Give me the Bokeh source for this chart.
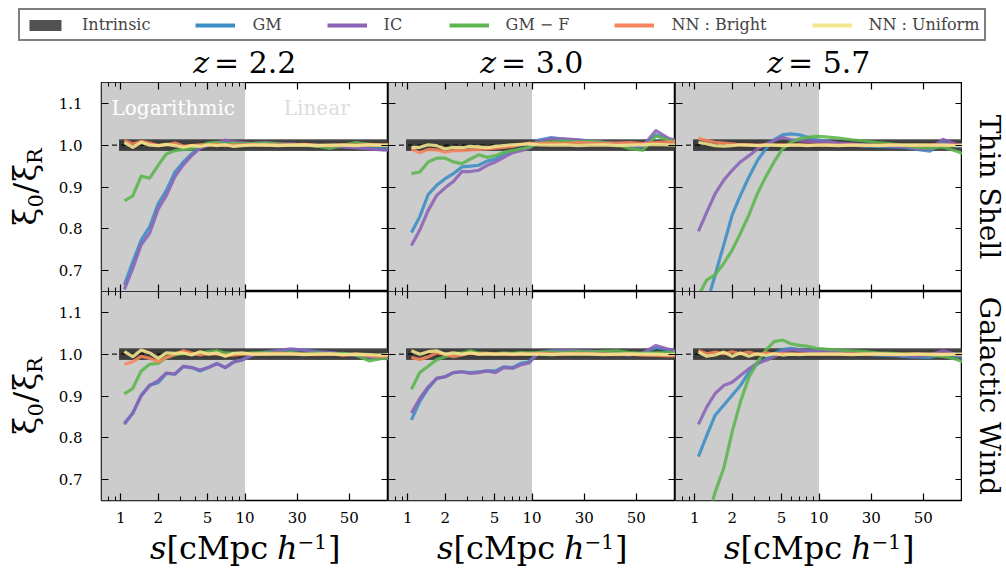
import numpy as np
from bokeh.plotting import figure
from bokeh.models import (Range1d, FixedTicker, CustomJSTickFormatter, LinearAxis, Label,
                          Legend, LegendItem, BoxAnnotation)
from bokeh.core.properties import value
from bokeh.layouts import column, row
from bokeh.embed import file_html
from bokeh.resources import INLINE

# ---------------- data ----------------
S_LOG = [1.07, 1.25, 1.46, 1.71, 2.00, 2.33, 2.73, 3.19, 3.72, 4.35, 5.08, 5.94, 6.94, 8.11, 9.47]
S_LIN = [12.5, 17.5, 22.5, 27.5, 32.5, 37.5, 42.5, 47.5, 52.5, 57.5, 62.5, 65.0]
S = S_LOG + S_LIN

REDSHIFTS = ["2.2", "3.0", "5.7"]
MODELS = ["Thin Shell", "Galactic Wind"]
SERIES = ["GM", "IC", "GM \u2212 F", "NN : Bright", "NN : Uniform"]
COLORS = ["#3b8dc5", "#8b62b6", "#5cb54f", "#f7845c", "#f4e78f"]

# Thin Shell
gm_ts_22 = [0.666, 0.721, 0.773, 0.805, 0.860, 0.892, 0.936, 0.960, 0.979, 0.995, 1.003, 1.005, 1.005, 1.004, 1.003,
            1.004, 1.003, 1.002, 1.001, 1.000, 1.000, 0.998, 0.997, 0.995, 0.993, 0.992, 0.991]
ic_ts_22 = [0.655, 0.705, 0.762, 0.790, 0.847, 0.880, 0.925, 0.953, 0.975, 0.993, 1.000, 1.005, 1.012, 1.008, 1.006,
            1.004, 1.006, 1.004, 1.003, 1.001, 0.998, 0.997, 0.996, 0.994, 0.991, 0.989, 0.988]
gmf_ts_22 = [0.867, 0.879, 0.926, 0.921, 0.952, 0.979, 0.987, 0.990, 0.991, 0.999, 1.005, 1.007, 1.003, 1.005, 1.003,
             1.004, 1.005, 1.003, 1.001, 1.000, 0.998, 0.992, 1.000, 1.006, 1.002, 0.999, 0.998]
nnb_ts_22 = [1.011, 1.003, 1.009, 1.005, 0.999, 1.001, 1.005, 0.998, 0.999, 1.001, 1.000, 1.002, 0.999, 1.001, 1.000,
             1.002, 1.000, 1.001, 1.000, 1.002, 1.000, 0.999, 1.001, 1.000, 1.002, 1.000, 1.001]
nnu_ts_22 = [1.006, 0.995, 1.007, 1.000, 0.999, 1.002, 0.999, 0.995, 0.999, 0.997, 1.001, 0.999, 1.001, 0.997, 0.999,
             1.000, 1.001, 0.999, 1.000, 1.001, 0.999, 1.000, 1.000, 0.999, 1.001, 1.000, 1.000]

gm_ts_30 = [0.791, 0.829, 0.882, 0.904, 0.920, 0.932, 0.948, 0.950, 0.952, 0.962, 0.967, 0.979, 0.985, 0.991, 0.995,
            1.012, 1.018, 1.014, 1.012, 1.010, 1.006, 1.003, 0.998, 0.996, 1.025, 1.014, 1.010]
ic_ts_30 = [0.760, 0.797, 0.844, 0.880, 0.898, 0.913, 0.937, 0.937, 0.940, 0.952, 0.960, 0.971, 0.982, 0.987, 0.993,
            1.008, 1.016, 1.015, 1.013, 1.010, 1.007, 1.004, 1.000, 0.998, 1.035, 1.016, 1.012]
gmf_ts_30 = [0.932, 0.936, 0.960, 0.969, 0.969, 0.960, 0.956, 0.967, 0.977, 0.971, 0.975, 0.983, 0.987, 0.991, 0.995,
             1.005, 1.008, 1.010, 1.008, 1.009, 1.006, 1.002, 0.992, 0.988, 1.022, 1.012, 1.008]
nnb_ts_30 = [0.991, 0.982, 0.990, 0.989, 0.983, 0.987, 0.987, 0.989, 0.990, 0.991, 0.993, 0.995, 0.997, 1.001, 1.005,
             1.004, 1.005, 1.004, 1.006, 1.005, 1.004, 1.005, 1.006, 1.004, 1.006, 1.008, 1.007]
nnu_ts_30 = [0.995, 0.995, 1.001, 0.999, 0.991, 0.995, 0.994, 0.997, 0.996, 0.994, 0.997, 0.999, 1.001, 1.002, 1.003,
             1.001, 1.000, 1.001, 0.999, 1.000, 1.001, 0.999, 1.000, 1.001, 1.002, 1.001, 1.000]

gm_ts_57 = [0.550, 0.620, 0.690, 0.761, 0.833, 0.880, 0.924, 0.963, 0.991, 1.013, 1.025, 1.027, 1.025, 1.019, 1.013,
            1.010, 1.004, 1.000, 0.998, 0.997, 0.996, 0.995, 0.990, 0.986, 1.006, 0.998, 0.996]
ic_ts_57 = [0.794, 0.840, 0.884, 0.916, 0.940, 0.960, 0.975, 0.991, 1.003, 1.011, 1.019, 1.013, 1.011, 1.009, 1.009,
            1.008, 1.005, 1.003, 1.001, 1.000, 0.998, 0.996, 0.992, 0.990, 1.014, 1.002, 1.000]
gmf_ts_57 = [0.640, 0.678, 0.690, 0.717, 0.749, 0.789, 0.833, 0.884, 0.924, 0.960, 0.991, 1.007, 1.015, 1.019, 1.021,
             1.020, 1.017, 1.013, 1.010, 1.006, 1.003, 0.999, 0.995, 0.993, 0.996, 0.986, 0.980]
nnb_ts_57 = [1.017, 1.011, 1.007, 1.005, 1.003, 1.001, 1.001, 1.000, 1.001, 1.000, 1.001, 1.000, 1.001, 1.000, 1.000,
             1.001, 1.000, 1.001, 0.999, 1.000, 1.001, 1.000, 0.999, 1.000, 1.001, 1.000, 1.000]
nnu_ts_57 = [1.007, 1.003, 0.999, 0.998, 0.999, 1.001, 1.000, 0.999, 1.000, 1.000, 0.999, 1.000, 1.000, 0.999, 1.000,
             1.000, 0.999, 1.000, 1.000, 0.999, 1.000, 1.000, 1.001, 1.000, 1.000, 0.999, 1.000]

# Galactic Wind
gm_gw_22 = [0.835, 0.858, 0.902, 0.926, 0.932, 0.954, 0.952, 0.971, 0.968, 0.960, 0.968, 0.978, 0.968, 0.982, 0.986,
            0.998, 1.005, 1.008, 1.011, 1.010, 1.006, 1.004, 1.001, 0.998, 0.994, 0.992, 0.991]
ic_gw_22 = [0.832, 0.860, 0.900, 0.925, 0.937, 0.955, 0.953, 0.971, 0.968, 0.962, 0.968, 0.977, 0.968, 0.981, 0.986,
            0.997, 1.004, 1.008, 1.013, 1.010, 1.005, 1.004, 1.000, 0.997, 0.993, 0.990, 0.989]
gmf_gw_22 = [0.905, 0.918, 0.960, 0.976, 0.978, 0.992, 0.998, 1.002, 1.000, 1.003, 1.006, 1.008, 1.003, 1.002, 1.000,
             1.003, 1.004, 1.002, 1.004, 1.001, 1.003, 1.000, 1.002, 0.998, 0.984, 0.990, 0.991]
nnb_gw_22 = [0.976, 0.982, 0.995, 0.990, 0.982, 0.992, 1.000, 1.008, 1.003, 0.998, 1.002, 1.000, 0.998, 0.998, 1.000,
             1.001, 1.000, 1.002, 1.001, 1.000, 0.999, 1.001, 0.998, 1.000, 0.996, 0.995, 0.996]
nnu_gw_22 = [1.006, 0.994, 1.010, 1.003, 0.990, 1.003, 1.002, 1.003, 0.998, 1.006, 1.000, 1.003, 0.995, 1.002, 1.003,
             1.000, 1.001, 1.000, 1.001, 0.999, 1.000, 1.001, 0.999, 1.000, 0.999, 0.998, 0.999]

gm_gw_30 = [0.843, 0.887, 0.918, 0.942, 0.946, 0.956, 0.958, 0.956, 0.958, 0.960, 0.960, 0.970, 0.968, 0.978, 0.982,
            1.004, 1.008, 1.008, 1.007, 1.007, 1.005, 1.001, 0.999, 1.002, 1.016, 1.010, 1.007]
ic_gw_30 = [0.859, 0.894, 0.922, 0.942, 0.946, 0.956, 0.958, 0.954, 0.956, 0.960, 0.956, 0.968, 0.966, 0.974, 0.979,
            1.003, 1.007, 1.009, 1.008, 1.007, 1.005, 1.000, 0.998, 1.003, 1.021, 1.012, 1.008]
gmf_gw_30 = [0.916, 0.956, 0.971, 0.987, 0.994, 1.000, 1.003, 1.008, 1.003, 1.002, 1.001, 1.003, 1.002, 1.004, 1.003,
             1.004, 1.005, 1.004, 1.006, 1.005, 1.007, 1.008, 1.004, 1.002, 1.003, 1.004, 1.003]
nnb_gw_30 = [0.992, 0.987, 0.994, 1.003, 1.000, 0.994, 0.998, 1.003, 1.000, 1.002, 1.000, 1.001, 0.999, 1.001, 1.000,
             1.002, 1.001, 1.000, 1.002, 1.001, 1.000, 0.999, 1.000, 0.998, 0.997, 0.996, 0.996]
nnu_gw_30 = [1.008, 1.000, 1.006, 1.008, 1.000, 1.003, 1.000, 1.003, 1.000, 1.001, 1.000, 1.001, 1.000, 1.001, 1.000,
             1.000, 0.999, 1.001, 1.000, 1.000, 0.999, 1.000, 1.001, 1.000, 1.000, 0.999, 1.000]

gm_gw_57 = [0.755, 0.806, 0.854, 0.878, 0.902, 0.925, 0.957, 0.977, 0.989, 1.001, 1.011, 1.014, 1.011, 1.009, 1.006,
            1.007, 1.004, 1.002, 1.000, 0.998, 0.997, 0.995, 0.993, 0.992, 1.000, 0.996, 0.993]
ic_gw_57 = [0.832, 0.874, 0.906, 0.925, 0.933, 0.949, 0.965, 0.979, 0.985, 0.993, 1.005, 1.011, 1.009, 1.008, 1.008,
            1.007, 1.006, 1.004, 1.002, 1.000, 0.999, 0.997, 0.995, 0.998, 1.008, 1.000, 0.997]
gmf_gw_57 = [0.520, 0.600, 0.670, 0.727, 0.814, 0.886, 0.945, 0.981, 1.009, 1.030, 1.034, 1.025, 1.021, 1.019, 1.014,
             1.012, 1.010, 1.008, 1.006, 1.003, 1.002, 1.001, 1.000, 0.998, 0.995, 0.988, 0.982]
nnb_gw_57 = [1.009, 1.001, 1.005, 1.001, 1.006, 1.001, 1.005, 0.999, 1.003, 1.000, 1.002, 1.000, 1.001, 1.000, 1.000,
             1.001, 1.000, 1.001, 1.000, 1.000, 0.999, 1.000, 1.000, 0.999, 1.000, 0.999, 0.999]
nnu_gw_57 = [1.005, 0.995, 0.998, 1.005, 0.995, 1.003, 0.995, 1.001, 0.997, 1.001, 0.998, 1.000, 0.999, 1.000, 1.000,
             1.000, 1.000, 0.999, 1.000, 1.001, 1.000, 0.999, 1.000, 1.000, 0.999, 1.000, 1.000]

PANELS = [
    [[gm_ts_22, ic_ts_22, gmf_ts_22, nnb_ts_22, nnu_ts_22],
     [gm_ts_30, ic_ts_30, gmf_ts_30, nnb_ts_30, nnu_ts_30],
     [gm_ts_57, ic_ts_57, gmf_ts_57, nnb_ts_57, nnu_ts_57]],
    [[gm_gw_22, ic_gw_22, gmf_gw_22, nnb_gw_22, nnu_gw_22],
     [gm_gw_30, ic_gw_30, gmf_gw_30, nnb_gw_30, nnu_gw_30],
     [gm_gw_57, ic_gw_57, gmf_gw_57, nnb_gw_57, nnu_gw_57]],
]

INTRINSIC_S = [0.97, 65.0]
INTRINSIC_LO, INTRINSIC_HI = 0.986, 1.014
INTRINSIC_CORE = (0.989, 1.011)
REF_S = [0.85, 65.0]

X_TICKS = [1, 2, 5, 10, 30, 50]
X_TICK_LABELS = ["1", "2", "5", "10", "30", "50"]
X_MINOR = [0.8, 0.9, 3, 4, 6, 7, 8, 9]
Y_TICKS = [0.7, 0.8, 0.9, 1.0, 1.1]
Y_TICK_LABELS = ["0.7", "0.8", "0.9", "1.0", "1.1"]

LOG_LO, SPLIT, LIN_HI = 0.7, 10.0, 65.0
Y_LO, Y_HI = 0.65, 1.15

FONT = "DejaVu Serif"


def tx(vals):
    a = np.atleast_1d(np.asarray(vals, dtype=float))
    lo = np.log10(LOG_LO)
    logpart = (np.log10(a) - lo) / (np.log10(SPLIT) - lo)
    linpart = 1.0 + (a - SPLIT) / (LIN_HI - SPLIT)
    return np.where(a <= SPLIT, logpart, linpart)


# layout sizes (pixels)
W, H = 1006, 576
FW, FH = 287, 209
TOP_H = 82
LSTRIP_W = 55
RSTRIP_W = 44
TICKLAB_L = 46
TICKLAB_B = 29
MID_H = FH * 2 + TICKLAB_B
BSTRIP_H = H - TOP_H - MID_H


def style_axis(ax, ticks, labels, minor, show):
    ax.ticker = FixedTicker(ticks=list(ticks), minor_ticks=list(minor))
    ax.axis_line_color = None
    ax.major_tick_in = 7
    ax.major_tick_out = 0
    ax.minor_tick_in = 4
    ax.minor_tick_out = 0
    ax.major_tick_line_color = "black"
    ax.minor_tick_line_color = "black"
    ax.major_tick_line_width = 1.2
    ax.minor_tick_line_width = 1.0
    if show:
        ax.formatter = CustomJSTickFormatter(args=dict(labels=labels), code="return labels[index];")
        ax.major_label_text_font = FONT
        ax.major_label_text_font_size = "15px"
        ax.major_label_text_color = "black"
    else:
        ax.formatter = CustomJSTickFormatter(code="return '';")
        ax.major_label_text_font_size = "0px"
        ax.major_label_standoff = 0


def make_panel(r, c):
    left = TICKLAB_L if c == 0 else 0
    bottom = TICKLAB_B if r == 1 else 0
    p = figure(width=FW + left, height=FH + bottom,
               x_range=Range1d(float(tx(LOG_LO)[0]), float(tx(LIN_HI)[0])),
               y_range=Range1d(Y_LO, Y_HI),
               min_border_left=left, min_border_right=0,
               min_border_top=0, min_border_bottom=bottom,
               toolbar_location=None, output_backend="svg")
    p.xgrid.visible = False
    p.ygrid.visible = False
    p.outline_line_color = "black"
    p.outline_line_width = 1.5
    p.background_fill_color = "white"
    p.border_fill_color = "white"

    xt = tx(X_TICKS).tolist()
    xm = tx(X_MINOR).tolist()
    style_axis(p.xaxis[0], xt, X_TICK_LABELS, xm, r == 1)
    p.xaxis[0].major_label_standoff = 11
    style_axis(p.yaxis[0], Y_TICKS, Y_TICK_LABELS, [], c == 0)
    p.yaxis[0].major_label_standoff = 19
    top_ax = LinearAxis()
    style_axis(top_ax, xt, X_TICK_LABELS, xm, False)
    p.add_layout(top_ax, "above")
    right_ax = LinearAxis()
    style_axis(right_ax, Y_TICKS, Y_TICK_LABELS, [], False)
    p.add_layout(right_ax, "right")

    # logarithmic region shading
    p.add_layout(BoxAnnotation(left=float(tx(LOG_LO)[0]), right=float(tx(SPLIT)[0]),
                               fill_color="#cccccc", fill_alpha=1.0, line_color=None, level="underlay"))

    bx = tx(INTRINSIC_S)
    p.varea(x=bx, y1=[INTRINSIC_LO] * 2, y2=[INTRINSIC_HI] * 2, fill_color="#333333", fill_alpha=0.85)
    p.varea(x=bx, y1=[INTRINSIC_CORE[0]] * 2, y2=[INTRINSIC_CORE[1]] * 2, fill_color="#333333", fill_alpha=0.6)
    p.line(x=tx(REF_S), y=[1.0, 1.0], line_color="black", line_width=1.3, line_dash="5 4", line_alpha=0.9)

    xs = tx(S)
    for vals, col in zip(PANELS[r][c], COLORS):
        p.line(x=xs, y=vals, line_color=col, line_width=3.2, line_alpha=0.88, line_join="round")

    if r == 0 and c == 0:
        mid_log = float((tx(LOG_LO)[0] + tx(SPLIT)[0]) / 2)
        mid_lin = float((tx(SPLIT)[0] + tx(LIN_HI)[0]) / 2)
        p.add_layout(Label(x=mid_log, y=1.088, text="Logarithmic", text_font=FONT, text_font_size="20px",
                           text_color="white", text_align="center", text_baseline="alphabetic"))
        p.add_layout(Label(x=mid_lin, y=1.088, text="Linear", text_font=FONT, text_font_size="20px",
                           text_color="#dddddd", text_align="center", text_baseline="alphabetic"))
    return p


def strip(width, height):
    s = figure(width=width, height=height, x_range=Range1d(0, width), y_range=Range1d(0, height),
               min_border=0, toolbar_location=None, output_backend="svg")
    s.axis.visible = False
    s.grid.visible = False
    s.outline_line_color = None
    s.background_fill_color = "white"
    s.border_fill_color = "white"
    return s


def put(s, x, y, t, size, style="normal", angle=0.0, align="left", baseline="alphabetic"):
    s.text(x=[x], y=[y], text=[t], text_font=value(FONT), text_font_size=size, text_font_style=style,
           angle=angle, text_align=align, text_baseline=baseline, text_color="black")


# measured shift of the rendered baseline (fraction of font size)
BL = 0.4

# column centres in page pixels
COL_CX = [LSTRIP_W + TICKLAB_L + FW * (c + 0.5) for c in range(3)]

# ---------------- top strip: legend + column titles ----------------
top_s = strip(W, TOP_H)
top_s.extra_y_ranges = {"hidden": Range1d(10, 11)}
r_int = top_s.varea(x=tx(INTRINSIC_S), y1=[INTRINSIC_LO] * 2, y2=[INTRINSIC_HI] * 2,
                    fill_color="#333333", fill_alpha=0.85, y_range_name="hidden")
items = [LegendItem(label="Intrinsic", renderers=[r_int])]
for name, col, vals in zip(SERIES, COLORS, PANELS[0][0]):
    rr = top_s.line(x=tx(S), y=vals, line_color=col, line_width=4, y_range_name="hidden")
    items.append(LegendItem(label=name, renderers=[rr]))
legend = Legend(items=items, orientation="horizontal", location=(18, TOP_H - 41), spacing=45, padding=5,
                glyph_width=40, glyph_height=14, label_height=16, label_standoff=17,
                label_text_font=FONT, label_text_font_size="16px",
                border_line_color="black", border_line_width=2, background_fill_color="white",
                background_fill_alpha=1.0, margin=0)
top_s.add_layout(legend)
for c in range(3):
    yb = (TOP_H - 74) + BL * 30
    put(top_s, COL_CX[c] - 36, yb, "z", "30px", style="italic", align="right")
    put(top_s, COL_CX[c] - 31, yb, "= " + REDSHIFTS[c], "30px")

# ---------------- left strip (y titles) ----------------
left_s = strip(LSTRIP_W, MID_H)
for r in range(2):
    cy = TICKLAB_B + FH * (1.5 - r)
    xb = 37
    pieces = [(xb - BL * 32, -38.5, "\u03be", "32px"), (xb + 6 - BL * 21, -20.5, "0", "21px"),
              (xb - BL * 32, -6.5, "/", "32px"), (xb - BL * 32, 5.5, "\u03be", "32px"),
              (xb + 6 - BL * 21, 23.0, "R", "21px")]
    for px, dy, t, fsz in pieces:
        put(left_s, px, cy + dy, t, fsz, angle=np.pi / 2)

# ---------------- right strip (row labels) ----------------
right_s = strip(RSTRIP_W, MID_H)
for r in range(2):
    cy = TICKLAB_B + FH * (1.5 - r)
    put(right_s, 27, cy, MODELS[r], "28px", angle=-np.pi / 2, align="center", baseline="middle")

# ---------------- bottom strip (x titles) ----------------
bot_s = strip(W, BSTRIP_H)
for c in range(3):
    x0 = COL_CX[c] - 95
    base = H - 560
    yb = base + BL * 32
    put(bot_s, x0, yb, "s", "32px", style="italic")
    put(bot_s, x0 + 16.5, yb, "[cMpc", "32px")
    put(bot_s, x0 + 127, yb, "h", "32px", style="italic")
    put(bot_s, x0 + 147.5, base + 11 + BL * 20, "\u22121", "20px")
    put(bot_s, x0 + 178, yb, "]", "32px")

grid = column(row(*[make_panel(0, c) for c in range(3)]),
              row(*[make_panel(1, c) for c in range(3)]))
layout = column(top_s, row(left_s, grid, right_s), bot_s)

with open("out.html", "w") as f:
    f.write(file_html(layout, INLINE))
